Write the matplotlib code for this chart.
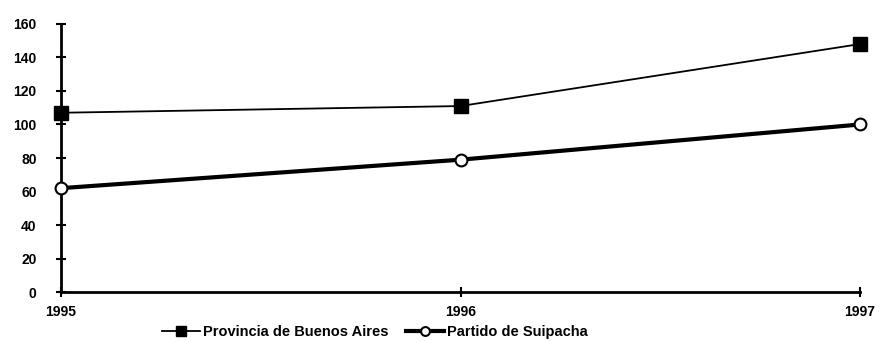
import matplotlib.pyplot as plt

years = [1995, 1996, 1997]
provincia = [107, 111, 148]
suipacha = [62, 79, 100]
yticks = [0, 20, 40, 60, 80, 100, 120, 140, 160]

plt.rcParams['font.family'] = ['Liberation Sans', 'DejaVu Sans']
plt.rcParams['font.weight'] = 'bold'

fig = plt.figure(figsize=(8.8, 3.42), dpi=100)
ax = fig.add_axes([0.0693, 0.146, 0.908, 0.784])

ax.plot(years, provincia, color='black', lw=1.3, marker='s', ms=10,
        mfc='black', mec='black', label='Provincia de Buenos Aires', clip_on=False, zorder=3)
ax.plot(years, suipacha, color='black', lw=3, marker='o', ms=8.5,
        mfc='white', mec='black', mew=1.5, label='Partido de Suipacha', clip_on=False, zorder=3)

ax.set_xlim(1995, 1997)
ax.set_ylim(0, 160)
ax.set_xticks(years)
ax.set_yticks(yticks)
ax.tick_params(axis='both', direction='inout', length=7, width=1.5, labelsize=10)
ax.tick_params(axis='x', pad=6)
ax.tick_params(axis='y', pad=14)
for lab in ax.get_xticklabels() + ax.get_yticklabels():
    lab.set_fontweight('bold')

for s in ['top', 'right']:
    ax.spines[s].set_visible(False)
for s in ['left', 'bottom']:
    ax.spines[s].set_linewidth(2)

ax.legend(loc='center', bbox_to_anchor=(375 / 880, 10 / 342), bbox_transform=fig.transFigure,
          ncol=2, frameon=False, handlelength=2.6, handletextpad=0.2, markerscale=0.75,
          columnspacing=1.2, borderaxespad=0, prop={'weight': 'bold', 'size': 10.5})

fig.savefig('out.png', dpi=100)
